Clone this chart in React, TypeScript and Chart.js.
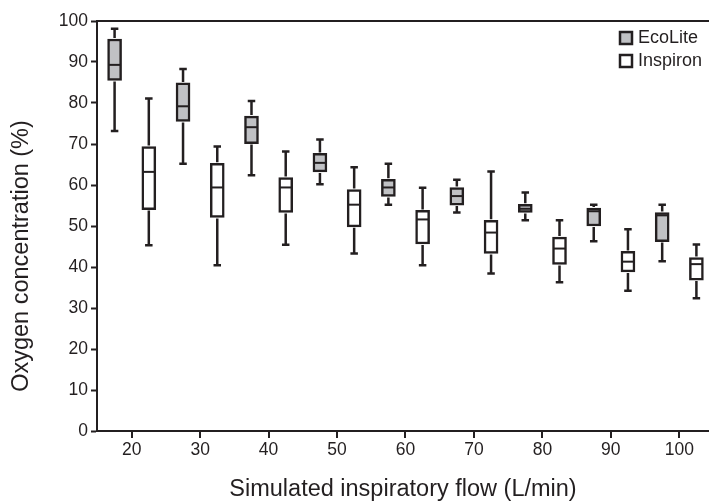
import React, { useEffect, useRef } from 'react';
import { Chart, registerables } from 'chart.js';

Chart.register(...registerables);

// ---- data ----
const flows = [20, 30, 40, 50, 60, 70, 80, 90, 100];
const seriesNames = ['EcoLite', 'Inspiron'];

const ecoMin = [73.2, 65.2, 62.4, 60.2, 55.2, 53.3, 51.4, 46.3, 41.4];
const ecoQ1 = [85.5, 75.5, 70.1, 63.2, 57.2, 55.1, 53.3, 50.0, 46.2];
const ecoMed = [89.3, 79.2, 74.1, 65.4, 59.4, 57.3, 54.2, 53.6, 52.6];
const ecoQ3 = [95.6, 84.9, 76.8, 67.7, 61.4, 59.4, 55.3, 54.4, 53.3];
const ecoMax = [98.1, 88.3, 80.5, 71.1, 65.2, 61.3, 58.2, 55.2, 55.2];

const inspMin = [45.3, 40.4, 45.4, 43.3, 40.4, 38.4, 36.3, 34.2, 32.4];
const inspQ1 = [54.0, 52.1, 53.3, 49.8, 45.6, 43.3, 40.6, 38.8, 36.8];
const inspMed = [63.2, 59.4, 59.4, 55.2, 51.6, 48.4, 44.5, 41.3, 40.7];
const inspQ3 = [69.4, 65.3, 61.8, 58.9, 53.8, 51.4, 47.3, 43.8, 42.3];
const inspMax = [81.1, 69.4, 68.2, 64.3, 59.3, 63.3, 51.4, 49.2, 45.5];

const yTicks = [0, 10, 20, 30, 40, 50, 60, 70, 80, 90, 100];
const xTitle = 'Simulated inspiratory flow (L/min)';
const yTitle = 'Oxygen concentration (%)';

// ---- style ----
const INK = '#231f20';
const GRAY = '#c0c1c4';
const WHITE = '#ffffff';
const FONT = '"Liberation Sans", Arial, Helvetica, sans-serif';
const SHIFT = 2.5;

const stats = [
  { min: ecoMin, q1: ecoQ1, med: ecoMed, q3: ecoQ3, max: ecoMax },
  { min: inspMin, q1: inspQ1, med: inspMed, q3: inspQ3, max: inspMax },
];

const boxPlugin = {
  id: 'boxWhiskers',
  afterDatasetsDraw(chart: any) {
    const ctx = chart.ctx;
    const ys = chart.scales.y;
    ctx.save();
    ctx.strokeStyle = INK;
    ctx.lineCap = 'butt';
    stats.forEach((s, d) => {
      const meta = chart.getDatasetMeta(d);
      meta.data.forEach((el: any, j: number) => {
        const x = el.x;
        const half = el.width / 2;
        const pMin = ys.getPixelForValue(s.min[j]);
        const pQ1 = ys.getPixelForValue(s.q1[j]);
        const pMed = ys.getPixelForValue(s.med[j]);
        const pQ3 = ys.getPixelForValue(s.q3[j]);
        const pMax = ys.getPixelForValue(s.max[j]);
        ctx.lineWidth = 2.5;
        ctx.beginPath();
        ctx.moveTo(x, pQ3 - 1);
        ctx.lineTo(x, pMax);
        ctx.moveTo(x, pQ1 + 1);
        ctx.lineTo(x, pMin);
        ctx.moveTo(x - 3.75, pMax);
        ctx.lineTo(x + 3.75, pMax);
        ctx.moveTo(x - 3.75, pMin);
        ctx.lineTo(x + 3.75, pMin);
        ctx.stroke();
        ctx.lineWidth = 2;
        ctx.beginPath();
        ctx.moveTo(x - half + 1, pMed);
        ctx.lineTo(x + half - 1, pMed);
        ctx.stroke();
      });
    });
    ctx.restore();
  },
};

const decorPlugin = {
  id: 'decor',
  afterDraw(chart: any) {
    const ctx = chart.ctx;
    const xs = chart.scales.x;
    const base = chart.chartArea.bottom;
    ctx.save();
    ctx.setLineDash([]);
    // x tick marks
    ctx.strokeStyle = INK;
    ctx.lineWidth = 2;
    ctx.beginPath();
    flows.forEach((f) => {
      const px = Math.round(xs.getPixelForValue(f));
      ctx.moveTo(px, base);
      ctx.lineTo(px, base + 7);
    });
    ctx.stroke();
    // legend
    const fills = [GRAY, WHITE];
    seriesNames.forEach((name, i) => {
      const top = 32 + i * 23;
      ctx.fillStyle = fills[i];
      ctx.fillRect(620, top, 12, 12);
      ctx.lineWidth = 2.5;
      ctx.strokeStyle = INK;
      ctx.strokeRect(620, top, 12, 12);
      ctx.fillStyle = INK;
      ctx.font = `18px ${FONT}`;
      ctx.textAlign = 'left';
      ctx.textBaseline = 'middle';
      ctx.fillText(name, 638, top + 6.5);
    });
    // y title
    ctx.translate(22, 256);
    ctx.rotate(-Math.PI / 2);
    ctx.font = `23.5px ${FONT}`;
    ctx.textAlign = 'center';
    ctx.textBaseline = 'middle';
    ctx.fillStyle = INK;
    ctx.fillText(yTitle, 0, 0);
    ctx.restore();
  },
};

export default function App() {
  const ref = useRef<HTMLCanvasElement>(null);

  useEffect(() => {
    const canvas = ref.current;
    if (!canvas) return;
    const makeData = (s: any, sign: number) =>
      flows.map((f, i) => ({ x: f + sign * SHIFT, y: [s.q1[i], s.q3[i]] }));

    const chart = new Chart(canvas, {
      type: 'bar',
      data: {
        datasets: [
          {
            label: seriesNames[0],
            data: makeData(stats[0], -1) as any,
            backgroundColor: GRAY,
            borderColor: INK,
            borderWidth: 2.5,
            borderSkipped: false,
            barThickness: 14,
            grouped: false,
          } as any,
          {
            label: seriesNames[1],
            data: makeData(stats[1], 1) as any,
            backgroundColor: WHITE,
            borderColor: INK,
            borderWidth: 2.5,
            borderSkipped: false,
            barThickness: 14,
            grouped: false,
          } as any,
        ],
      },
      options: {
        responsive: false,
        animation: false,
        layout: { padding: { top: 21, left: 0, right: 0, bottom: 0 } },
        scales: {
          x: {
            type: 'linear',
            position: 'bottom',
            offset: false,
            min: 14.93,
            max: 104.34,
            afterBuildTicks: (s: any) => {
              s.ticks = flows.map((v) => ({ value: v }));
            },
            afterFit: (s: any) => {
              s.height = 70;
            },
            ticks: {
              color: INK,
              font: { family: FONT, size: 17.5 },
              padding: 9,
              maxRotation: 0,
              autoSkip: false,
            },
            grid: {
              display: false,
              offset: false,
              drawOnChartArea: false,
              drawTicks: false,
            },
            border: { display: true, color: INK, width: 2 },
            title: {
              display: true,
              text: xTitle,
              color: INK,
              font: { family: FONT, size: 23.5, lineHeight: 1 },
              padding: { top: 0, bottom: 0 },
            },
          },
          x2: {
            type: 'linear',
            position: 'top',
            offset: false,
            min: 14.93,
            max: 104.34,
            ticks: { display: false },
            grid: { display: false, drawTicks: false, offset: false },
            border: { display: true, color: INK, width: 2 },
            afterFit: (s: any) => {
              s.height = 0;
            },
          },
          y: {
            type: 'linear',
            position: 'left',
            min: 0,
            max: 100,
            afterBuildTicks: (s: any) => {
              s.ticks = yTicks.map((v) => ({ value: v }));
            },
            afterFit: (s: any) => {
              s.width = 97;
            },
            ticks: {
              color: INK,
              font: { family: FONT, size: 17.5 },
              padding: 3,
            },
            grid: {
              drawOnChartArea: false,
              drawTicks: true,
              tickLength: 6,
              tickWidth: 2,
              tickColor: INK,
              color: INK,
            },
            border: { display: true, color: INK, width: 2 },
          },
        },
        plugins: {
          legend: { display: false },
          tooltip: { enabled: false },
        },
      } as any,
      plugins: [boxPlugin, decorPlugin],
    });
    return () => chart.destroy();
  }, []);

  return (
    <canvas
      ref={ref}
      width={709}
      height={501}
      style={{ position: 'absolute', left: 0, top: 0, width: 709, height: 501 }}
    />
  );
}
